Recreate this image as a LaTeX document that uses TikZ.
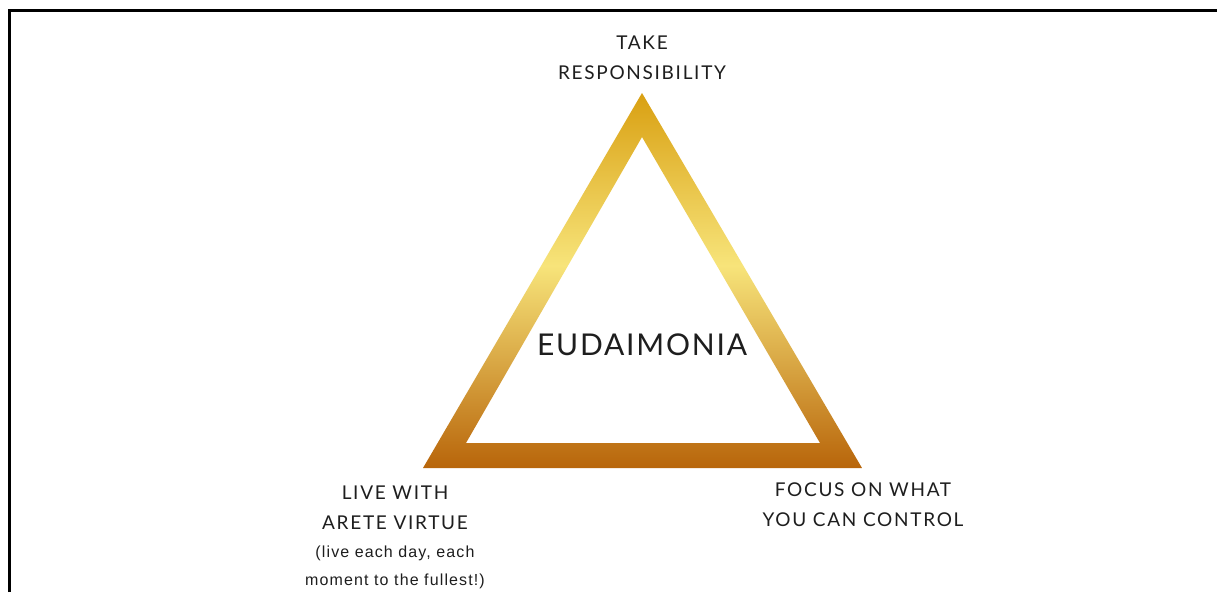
\documentclass[tikz,border=0pt]{standalone}
\usepackage{fontspec}
\setmainfont{Lato}[LetterSpace=9]
\newfontfamily\notefont{Liberation Sans}[LetterSpace=7]
\usepackage{xcolor}
\usetikzlibrary{positioning}
\definecolor{goldtop}{HTML}{D9A012}
\definecolor{goldmid}{HTML}{F7E47A}
\definecolor{goldbot}{HTML}{B8650A}
\definecolor{inkgray}{HTML}{1E1E1E}
\pgfdeclareverticalshading{goldband}{100bp}{color(0bp)=(goldbot); color(25bp)=(goldbot);
    color(52bp)=(goldmid); color(75bp)=(goldtop); color(100bp)=(goldtop)}

\begin{document}
\begin{tikzpicture}[x=1pt, y=-1pt, font=\fontsize{19}{30}\selectfont,
    label/.style={align=center, text=inkgray, inner sep=0pt}]
    \useasboundingbox (0,0) rectangle (1217,592);
    \fill[white] (0,0) rectangle (1217,592);
    \draw[line width=3pt] (9,592) -- (9,10) -- (1217,10);
    % golden frame of the triangle
    \shade[even odd rule, shading=goldband]
        (642,93) -- (862,468) -- (423,468) -- cycle
        (642,137) -- (820,443) -- (466,443) -- cycle;
    \node[label] (resp) at (642,58) {TAKE\\RESPONSIBILITY};
    \node[label, font=\fontsize{30}{36}\selectfont\addfontfeature{LetterSpace=6}] (eud) at (642,345) {EUDAIMONIA};
    \node[label] (arete) at (395,508) {LIVE WITH\\ARETE VIRTUE};
    \node[label, below=16pt of arete, font=\notefont\fontsize{16}{28}\selectfont] (note) {(live each day, each\\moment to the fullest!)};
    \node[label] (focus) at (863,505) {FOCUS ON WHAT\\YOU CAN CONTROL};
\end{tikzpicture}
\end{document}
